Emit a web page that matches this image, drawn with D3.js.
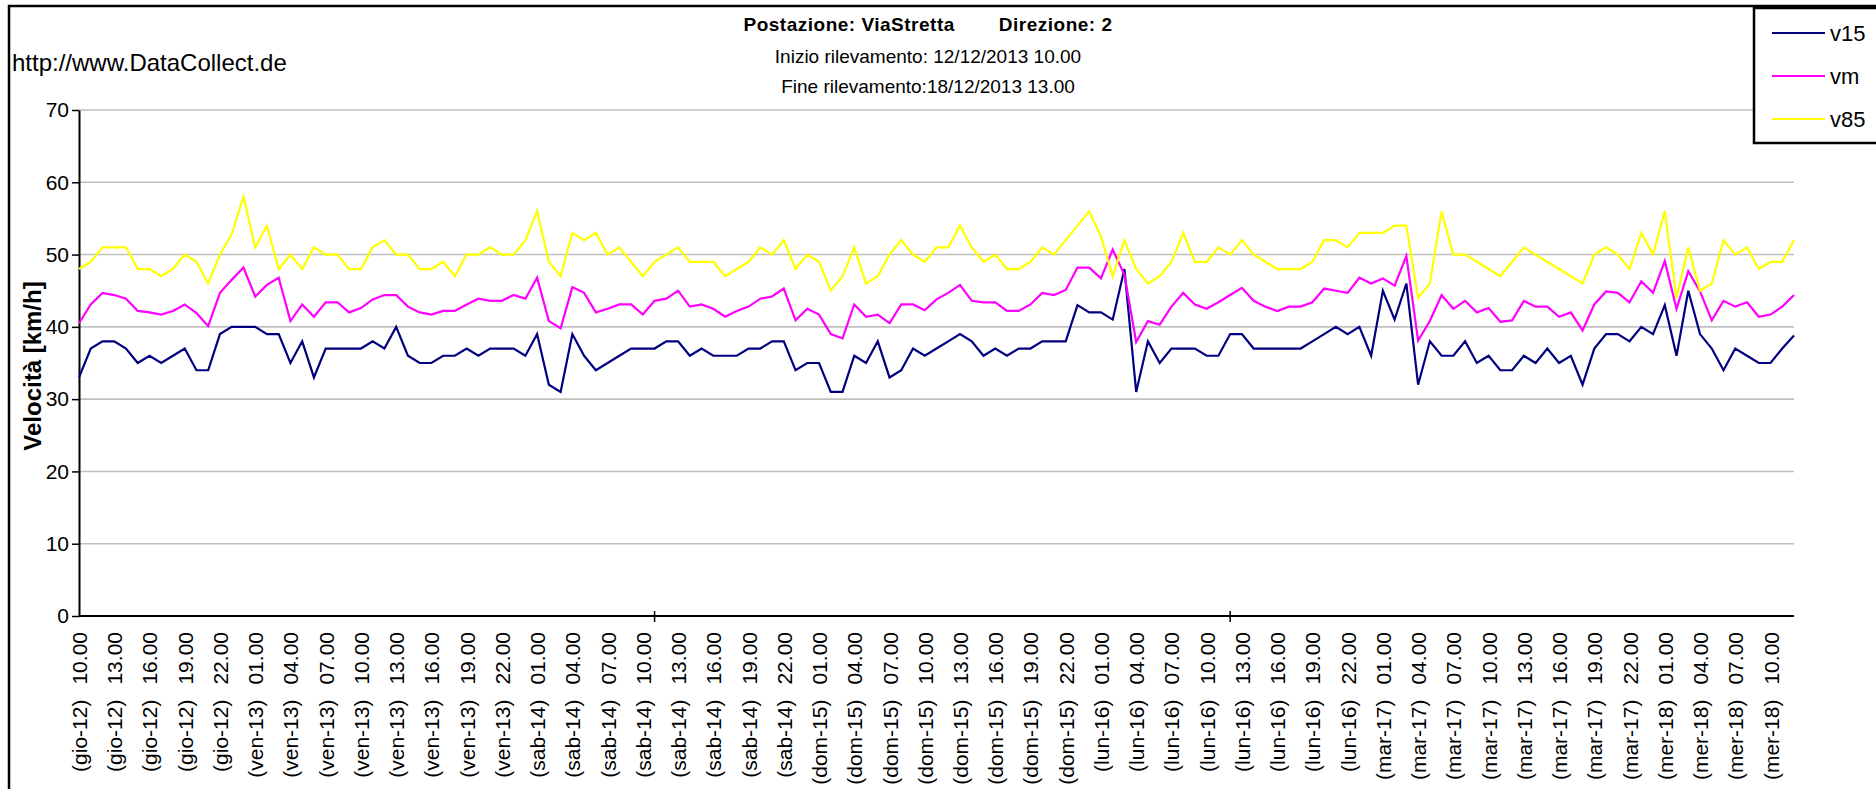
<!DOCTYPE html>
<html>
<head>
<meta charset="utf-8">
<script src="https://cdn.jsdelivr.net/npm/d3@7"></script>
<style>
  html, body { margin: 0; padding: 0; background: #fff; }
  svg { display: block; font-family: Arial, "Liberation Sans", sans-serif; }
</style>
</head>
<body>
<div id="chart"></div>
<script>
// Hourly speed survey, 12/12/2013 10.00 -> 18/12/2013 12.00 (147 readings).
const dayNames = ['gio', 'ven', 'sab', 'dom', 'lun', 'mar', 'mer'];
const firstDay = 12;
const firstHour = 10;
const labelEvery = 3;

const v15 = [
  33, 37, 38, 38, 37, 35, 36, 35, 36, 37, 34, 34, 39, 40, 40, 40, 39, 39, 35, 38, 33, 37, 37,
  37, 37, 38, 37, 40, 36, 35, 35, 36, 36, 37, 36, 37, 37, 37, 36, 39, 32, 31, 39, 36, 34, 35, 36, 37,
  37, 37, 38, 38, 36, 37, 36, 36, 36, 37, 37, 38, 38, 34, 35, 35, 31, 31, 36, 35, 38, 33, 34, 37, 36,
  37, 38, 39, 38, 36, 37, 36, 37, 37, 38, 38, 38, 43, 42, 42, 41, 48, 31, 38, 35, 37, 37, 37, 36,
  36, 39, 39, 37, 37, 37, 37, 37, 38, 39, 40, 39, 40, 36, 45, 41, 46, 32, 38, 36, 36, 38, 35, 36, 34,
  34, 36, 35, 37, 35, 36, 32, 37, 39, 39, 38, 40, 39, 43, 36, 45, 39, 37, 34, 37, 36, 35, 35, 37, 38.8
];

const vm = [
  40.5, 43.1, 44.7, 44.4, 43.9, 42.2, 42.0, 41.7, 42.2, 43.1, 41.9, 40.1, 44.7, 46.5, 48.2, 44.2, 45.8, 46.8, 40.8, 43.1, 41.4, 43.4, 43.4,
  42.0, 42.6, 43.8, 44.4, 44.4, 42.8, 42.0, 41.7, 42.2, 42.2, 43.1, 43.9, 43.6, 43.6, 44.4, 43.9, 46.8, 40.8, 39.8, 45.5, 44.7, 42.0, 42.5, 43.1, 43.1,
  41.7, 43.6, 43.9, 45.0, 42.8, 43.1, 42.5, 41.4, 42.2, 42.8, 43.9, 44.2, 45.3, 40.9, 42.5, 41.7, 39.0, 38.4, 43.1, 41.4, 41.7, 40.5, 43.1, 43.1, 42.3,
  43.8, 44.7, 45.8, 43.6, 43.4, 43.4, 42.2, 42.2, 43.1, 44.7, 44.4, 45.1, 48.2, 48.2, 46.7, 50.7, 47.2, 37.9, 40.8, 40.3, 42.8, 44.7, 43.1, 42.5,
  43.4, 44.4, 45.4, 43.6, 42.8, 42.2, 42.8, 42.8, 43.4, 45.3, 45.0, 44.7, 46.8, 46.0, 46.7, 45.7, 49.8, 38.1, 40.8, 44.4, 42.5, 43.6, 42.0, 42.6, 40.7,
  40.9, 43.6, 42.8, 42.8, 41.4, 42.0, 39.5, 43.1, 44.9, 44.7, 43.4, 46.3, 44.7, 49.1, 42.5, 47.7, 44.9, 40.9, 43.6, 42.8, 43.4, 41.4, 41.7, 42.8, 44.4
];

const v85 = [
  48, 49, 51, 51, 51, 48, 48, 47, 48, 50, 49, 46, 50, 52.8, 58, 51, 54, 48, 50, 48, 51, 50, 50,
  48, 48, 51, 52, 50, 50, 48, 48, 49, 47, 50, 50, 51, 50, 50, 52, 56, 49, 47, 53, 52, 53, 50, 51, 49,
  47, 49, 50, 51, 49, 49, 49, 47, 48, 49, 51, 50, 52, 48, 50, 49, 45, 47, 51, 46, 47, 50, 52, 50, 49,
  51, 51, 54, 51, 49, 50, 48, 48, 49, 51, 50, 52, 54, 56, 52.5, 47, 52, 48, 46, 47, 49, 53, 49, 49,
  51, 50, 52, 50, 49, 48, 48, 48, 49, 52, 52, 51, 53, 53, 53, 54, 54, 44, 46, 56, 50, 50, 49, 48, 47,
  49, 51, 50, 49, 48, 47, 46, 50, 51, 50, 48, 53, 50, 56, 44, 51, 45, 46, 52, 50, 51, 48, 49, 49, 52
];

const yTicks = [0, 10, 20, 30, 40, 50, 60, 70];
const majorTicks = [49, 98];

const series = [
  { name: 'v15', values: v15, color: '#000080' },
  { name: 'vm', values: vm, color: '#ff00ff' },
  { name: 'v85', values: v85, color: '#ffff00' }
];

// Category labels, one per hour: "(gio-12)" + "10.00"
const categories = v15.map((_, i) => {
  const h = firstHour + i;
  const d = Math.floor(h / 24);
  return { day: `(${dayNames[d]}-${firstDay + d})`, hour: `${String(h % 24).padStart(2, '0')}.00` };
});

const W = 1876, H = 789;
const PLOT = { left: 79, right: 1794, top: 110, bottom: 616 };
const FONT = 21;

const svg = d3.select('#chart').append('svg').attr('width', W).attr('height', H);
svg.append('rect').attr('width', W).attr('height', H).attr('fill', '#fff');

// Outer chart frame (right and bottom edges fall outside the picture)
svg.append('rect').attr('x', 9).attr('y', 6).attr('width', W + 20).attr('height', H + 20)
  .attr('fill', 'none').attr('stroke', '#000').attr('stroke-width', 2.5);

const x = d3.scaleLinear().domain([0, v15.length - 1]).range([PLOT.left, PLOT.right]);
const y = d3.scaleLinear().domain([0, 70]).range([PLOT.bottom, PLOT.top]);

// Gridlines
svg.append('g').selectAll('line').data(yTicks.filter((t) => t > 0)).join('line')
  .attr('x1', PLOT.left).attr('x2', PLOT.right)
  .attr('y1', (d) => y(d)).attr('y2', (d) => y(d))
  .attr('stroke', '#c0c0c0').attr('stroke-width', 1.6);

// Y axis
svg.append('g').attr('transform', `translate(${PLOT.left},0)`)
  .call(d3.axisLeft(y).tickValues(yTicks).tickSize(7).tickPadding(3).tickSizeOuter(0))
  .call((sel) => {
    sel.select('.domain').attr('stroke', '#000').attr('stroke-width', 2);
    sel.selectAll('line').attr('stroke', '#000').attr('stroke-width', 1.5);
    sel.selectAll('text').attr('font-size', FONT).attr('fill', '#000')
      .attr('font-family', 'Arial, "Liberation Sans", sans-serif');
  });

svg.append('text')
  .attr('transform', `translate(32,366) rotate(-90)`)
  .attr('text-anchor', 'middle').attr('dominant-baseline', 'central')
  .attr('font-size', 24).attr('font-weight', 'bold').text('Velocità [km/h]');

// X axis line and major ticks
svg.append('line').attr('x1', PLOT.left).attr('x2', PLOT.right)
  .attr('y1', y(0)).attr('y2', y(0)).attr('stroke', '#000').attr('stroke-width', 2);
svg.append('g').selectAll('line').data(majorTicks).join('line')
  .attr('x1', (d) => x(d)).attr('x2', (d) => x(d))
  .attr('y1', y(0) - 5).attr('y2', y(0) + 6)
  .attr('stroke', '#000').attr('stroke-width', 1.5);

// Rotated category labels, every third hour
const labelled = categories.map((c, i) => ({ ...c, i })).filter((c) => c.i % labelEvery === 0);
const lab = svg.append('g').selectAll('text').data(labelled).join('text')
  .attr('transform', (d) => `translate(${x(d.i)},632) rotate(-90)`)
  .attr('text-anchor', 'end').attr('dominant-baseline', 'central')
  .attr('font-size', FONT).attr('fill', '#000');
lab.append('tspan').text((d) => d.day);
lab.append('tspan').attr('dx', 15).text((d) => d.hour);

// Series lines
const line = d3.line().x((d, i) => x(i)).y((d) => y(d));
series.forEach((s) => {
  svg.append('path').datum(s.values)
    .attr('fill', 'none').attr('stroke', s.color)
    .attr('stroke-width', 2.2).attr('stroke-linejoin', 'miter').attr('d', line);
});

// Header texts
svg.append('text').attr('x', 12).attr('y', 71).attr('font-size', 24).text('http://www.DataCollect.de');
const title = svg.append('text').attr('x', 928).attr('y', 31).attr('text-anchor', 'middle')
  .attr('font-size', 19).attr('font-weight', 'bold').attr('letter-spacing', 0.5);
title.append('tspan').text('Postazione: ViaStretta');
title.append('tspan').attr('dx', 44).text('Direzione: 2');
svg.append('text').attr('x', 928).attr('y', 63).attr('text-anchor', 'middle')
  .attr('font-size', 19).text('Inizio rilevamento: 12/12/2013 10.00');
svg.append('text').attr('x', 928).attr('y', 93).attr('text-anchor', 'middle')
  .attr('font-size', 19).text('Fine rilevamento:18/12/2013 13.00');

// Legend
const legend = svg.append('g');
legend.append('rect').attr('x', 1754).attr('y', 8).attr('width', 140).attr('height', 135)
  .attr('fill', '#fff').attr('stroke', '#000').attr('stroke-width', 2.5);
const legendY = d3.scalePoint().domain(series.map((s) => s.name)).range([33, 119]);
series.forEach((s) => {
  legend.append('line').attr('x1', 1772).attr('x2', 1825)
    .attr('y1', legendY(s.name)).attr('y2', legendY(s.name))
    .attr('stroke', s.color).attr('stroke-width', 2.2);
  legend.append('text').attr('x', 1830).attr('y', legendY(s.name))
    .attr('dominant-baseline', 'central').attr('font-size', 22).text(s.name);
});
</script>
</body>
</html>
